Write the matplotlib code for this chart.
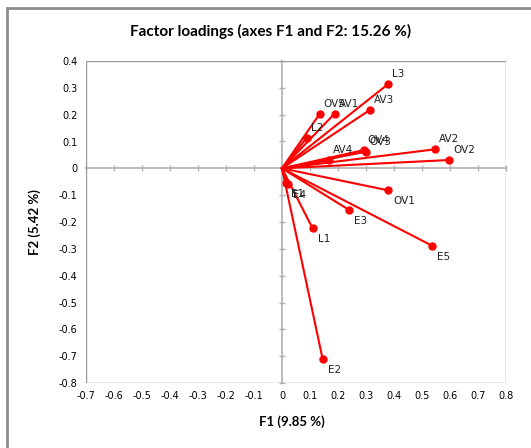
import matplotlib
matplotlib.use("Agg")
import matplotlib.pyplot as plt
from matplotlib.patches import Rectangle

# factor loadings
names = ["L3", "AV3", "OV5", "AV1", "L2", "OV4", "OV3", "AV4", "AV2", "OV2",
         "OV1", "E3", "L1", "E5", "E1", "E4", "E2"]
f1 = [0.379, 0.313, 0.134, 0.188, 0.088, 0.292, 0.299, 0.168, 0.547, 0.596,
      0.379, 0.238, 0.109, 0.535, 0.015, 0.020, 0.145]
f2 = [0.314, 0.217, 0.202, 0.204, 0.113, 0.068, 0.062, 0.030, 0.071, 0.031,
      -0.082, -0.154, -0.223, -0.288, -0.055, -0.060, -0.710]

xticks = [-0.7, -0.6, -0.5, -0.4, -0.3, -0.2, -0.1, 0, 0.1, 0.2, 0.3, 0.4, 0.5, 0.6, 0.7, 0.8]
yticks = [0.4, 0.3, 0.2, 0.1, 0, -0.1, -0.2, -0.3, -0.4, -0.5, -0.6, -0.7, -0.8]

def fmt(v):
    return "0" if abs(v) < 1e-9 else ("%.1f" % v)

W, H = 531, 448
fig = plt.figure(figsize=(W / 100, H / 100), dpi=100)
fig.patch.set_facecolor("white")

# outer chart border
fig.patches.append(Rectangle((7 / W, -0.05), 1.1, 1 - 8 / H + 0.05, transform=fig.transFigure,
                             fill=False, ec="#8c8c8c", lw=2))

pos = [86 / W, 1 - 383 / H, 420 / W, 322 / H]
ax = fig.add_axes(pos)
ax.set_xlim(-0.7, 0.8)
ax.set_ylim(-0.8, 0.4)
grey = "#b0b0b0"
for s in ["top", "right"]:
    ax.spines[s].set_visible(False)
ax.spines["left"].set_position(("data", 0))
ax.spines["bottom"].set_position(("data", 0))
ax.spines["left"].set_color(grey)
ax.spines["bottom"].set_color(grey)
ax.spines["left"].set_linewidth(1.2)
ax.spines["bottom"].set_linewidth(1.2)
ax.add_patch(Rectangle((0, 0), 1, 1, transform=ax.transAxes, fill=False, ec="#9a9a9a", lw=1, zorder=5))
ax.set_xticks(xticks)
ax.set_yticks(yticks)
ax.tick_params(direction="inout", length=5, width=1, color=grey, labelleft=False, labelbottom=False)

# labels at the edges
ax2 = fig.add_axes(pos, frameon=False)
ax2.set_xlim(-0.7, 0.8)
ax2.set_ylim(-0.8, 0.4)
ax2.set_xticks(xticks)
ax2.set_yticks(yticks)
ax2.set_xticklabels([fmt(v) for v in xticks])
ax2.set_yticklabels([fmt(v) for v in yticks])
ax2.tick_params(length=0, labelsize=7, pad=6)
ax2.patch.set_alpha(0)

below = {"OV1", "E3", "L1", "E5", "E1", "E4", "E2"}
for n, x, y in zip(names, f1, f2):
    ax.plot([0, x], [0, y], color="red", lw=1.5, zorder=3)
    ax.plot(x, y, "o", color="red", ms=5, zorder=4)
    if n in below:
        off = (5, -6)
        va = "top"
    else:
        off = (4, 5)
        va = "bottom"
    ax.annotate(n, (x, y), xytext=off, textcoords="offset pixels", fontsize=7.5,
                ha="left", va=va, color="#202020")

fig.text(271 / W, 1 - 31 / H, "Factor loadings (axes F1 and F2: 15.26 %)", ha="center", va="center",
         fontsize=11, fontweight="bold", family="Lato")
fig.text(292 / W, 1 - 422 / H, "F1 (9.85 %)", ha="center", va="center",
         fontsize=9.5, fontweight="bold", family="Lato")
fig.text(35 / W, 1 - 222 / H, "F2 (5.42 %)", ha="center", va="center", rotation=90,
         fontsize=9.5, fontweight="bold", family="Lato")

fig.savefig("out.png", dpi=100)
